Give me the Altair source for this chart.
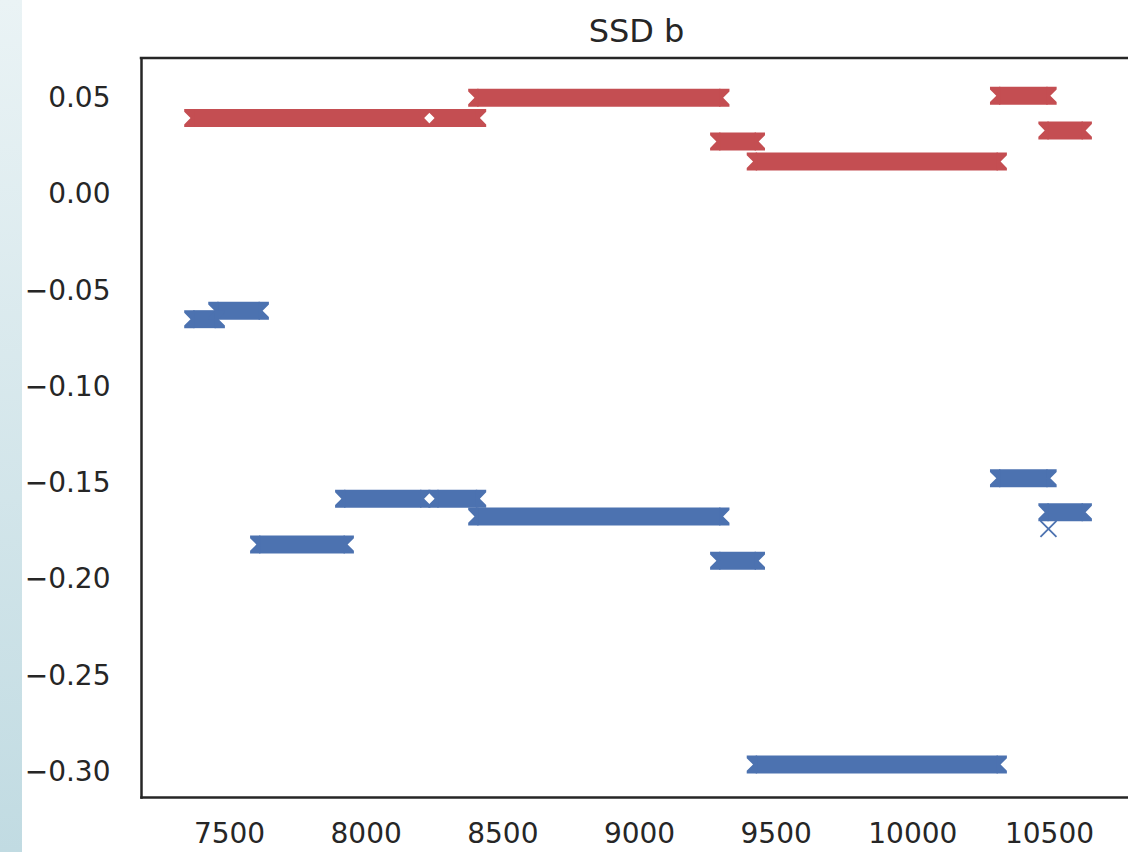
import altair as alt
import pandas as pd

# Segment estimates: x range (start/end) and level for each series
red_start = [7369, 8262, 8408, 9293, 9427, 10317, 10494]
red_end = [8204, 8408, 9298, 9428, 10313, 10495, 10624]
red_val = [0.0398, 0.0398, 0.0503, 0.0276, 0.0172, 0.0514, 0.0334]

blue_start = [7369, 7457, 7610, 7921, 8262, 8408, 9293, 9427, 10317, 10494]
blue_end = [7452, 7613, 7924, 8204, 8408, 9298, 9428, 10313, 10495, 10624]
blue_val = [-0.0646, -0.0602, -0.1816, -0.1578, -0.1578, -0.167, -0.190, -0.2958, -0.1472, -0.1648]

# Lone point estimate
single_x = [10498]
single_y = [-0.1735]

x_ticks = [7500, 8000, 8500, 9000, 9500, 10000, 10500]
y_ticks = [-0.30, -0.25, -0.20, -0.15, -0.10, -0.05, 0.00, 0.05]

TITLE = "SSD b"
RED = "#C44E52"
BLUE = "#4C72B0"
INK = "#262626"
FONT = "DejaVu Sans"

W, H = 987, 739
PAD_L, PAD_T, PAD_B = 141, 58, 55

segs = pd.concat([
    pd.DataFrame({"start": red_start, "end": red_end, "val": red_val, "series": "red"}),
    pd.DataFrame({"start": blue_start, "end": blue_end, "val": blue_val, "series": "blue"}),
])
single = pd.DataFrame({"x": single_x, "y": single_y})
one = pd.DataFrame({"a": [0]})
title_df = pd.DataFrame({"t": [TITLE]})

xscale = alt.Scale(domain=[7178, 10789], nice=False, zero=False)
yscale = alt.Scale(domain=[-0.3127, 0.071], nice=False, zero=False)
cscale = alt.Scale(domain=["red", "blue"], range=[RED, BLUE])

xaxis = alt.Axis(values=x_ticks, format="d", title=None, grid=False, ticks=False, tickSize=0,
                 labelPadding=23, labelFontSize=28, labelFont=FONT, labelColor=INK,
                 domainColor=INK, domainWidth=2.5, domainCap="square", labelFlush=False)
yaxis = alt.Axis(values=y_ticks, format=".2f", title=None, grid=False, ticks=False, tickSize=0,
                 labelPadding=31, labelFontSize=28, labelFont=FONT, labelColor=INK,
                 domainColor=INK, domainWidth=2.5, domainCap="square", labelFlush=False)

# notched end caps, unit = half band height
LEFT_CAP = "M 0.15 -1 L -1 -1 L -1 -0.7 L -0.3 0 L -1 0.7 L -1 1 L 0.15 1 Z"
RIGHT_CAP = "M -0.15 -1 L 1 -1 L 1 -0.7 L 0.3 0 L 1 0.7 L 1 1 L -0.15 1 Z"
X_SHAPE = "M -1 -1 L 1 1 M -1 1 L 1 -1"

strip = alt.Chart(one).mark_rect(
    color=alt.Gradient(
        gradient="linear",
        stops=[alt.GradientStop(color="#EAF3F5", offset=0),
               alt.GradientStop(color="#C1DBE2", offset=1)],
        x1=0, x2=0, y1=0, y2=1,
    )
).encode(x=alt.value(-PAD_L), x2=alt.value(-PAD_L + 22), y=alt.value(-PAD_T), y2=alt.value(H + PAD_B))

bands = alt.Chart(segs).mark_rule(strokeWidth=18, strokeCap="butt").encode(
    x=alt.X("start:Q", scale=xscale, axis=xaxis),
    x2="end:Q",
    y=alt.Y("val:Q", scale=yscale, axis=yaxis),
    color=alt.Color("series:N", scale=cscale, legend=None),
)

left_caps = alt.Chart(segs).mark_point(shape=LEFT_CAP, size=324, filled=True, opacity=1, strokeWidth=0).encode(
    x=alt.X("start:Q", scale=xscale),
    y=alt.Y("val:Q", scale=yscale),
    color=alt.Color("series:N", scale=cscale, legend=None),
)

right_caps = alt.Chart(segs).mark_point(shape=RIGHT_CAP, size=324, filled=True, opacity=1, strokeWidth=0).encode(
    x=alt.X("end:Q", scale=xscale),
    y=alt.Y("val:Q", scale=yscale),
    color=alt.Color("series:N", scale=cscale, legend=None),
)

lone = alt.Chart(single).mark_point(shape=X_SHAPE, size=256, filled=False, opacity=1,
                                    strokeWidth=1.8, color=BLUE).encode(
    x=alt.X("x:Q", scale=xscale),
    y=alt.Y("y:Q", scale=yscale),
)

top_spine = alt.Chart(one).mark_rule(color=INK, strokeWidth=2.5, strokeCap="square").encode(
    x=alt.value(0), x2=alt.value(W), y=alt.value(0)
)

# chart title, centred over the plot frame
title = alt.Chart(title_df).mark_text(
    font=FONT, fontSize=32, color=INK, align="center", baseline="alphabetic"
).encode(x=alt.value(W / 2 + 2), y=alt.value(-16), text="t:N")

chart = alt.layer(strip, bands, left_caps, right_caps, lone, top_spine, title).properties(
    width=W,
    height=H,
    autosize=alt.AutoSizeParams(type="none"),
    padding={"left": PAD_L, "top": PAD_T, "right": 0, "bottom": PAD_B},
).configure_view(stroke=None).configure(background="white")

chart.save("out.html", embed_options={"renderer": "svg", "actions": False})
